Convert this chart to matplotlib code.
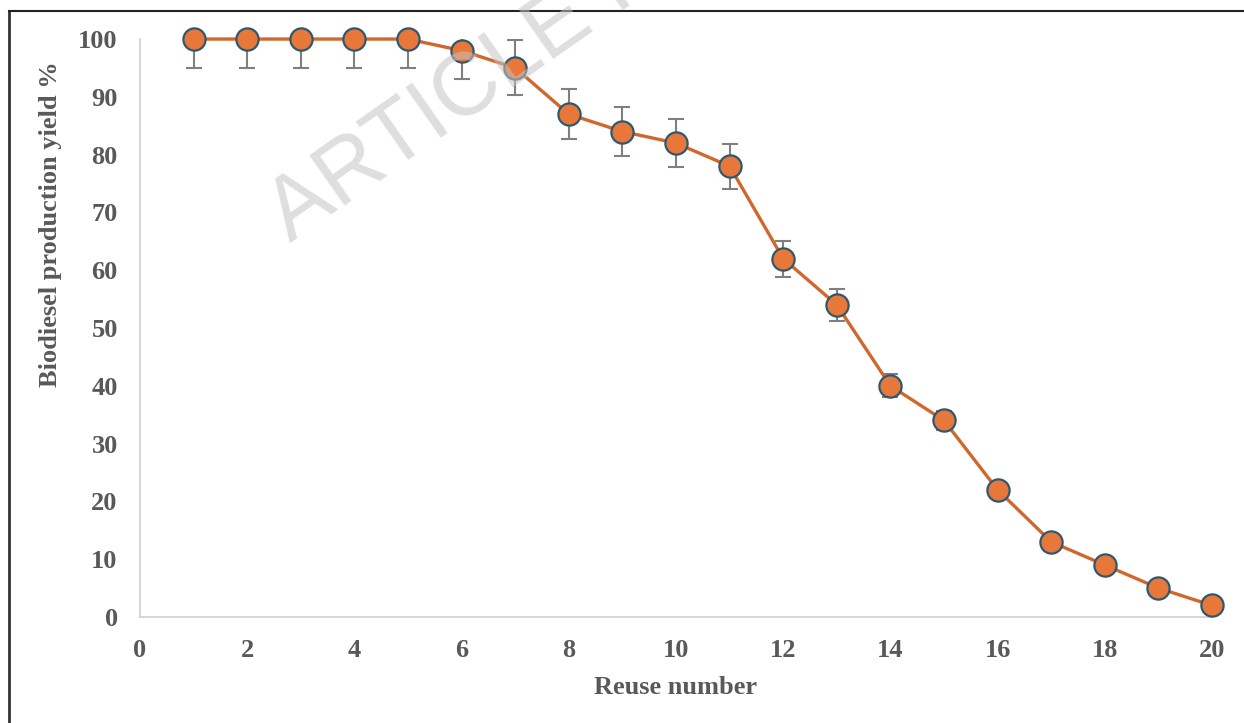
import matplotlib
matplotlib.use("Agg")
import matplotlib.pyplot as plt
from matplotlib.lines import Line2D

# Data
reuse = [1, 2, 3, 4, 5, 6, 7, 8, 9, 10, 11, 12, 13, 14, 15, 16, 17, 18, 19, 20]
yield_pct = [100, 100, 100, 100, 100, 98, 95, 87, 84, 82, 78, 62, 54, 40, 34, 22, 13, 9, 5, 2]
err = [5, 5, 5, 5, 5, 4.9, 4.75, 4.35, 4.2, 4.1, 3.9, 3.1, 2.7, 2.0, 1.7, 1.1, 0.65, 0.45, 0.25, 0.1]
xticks = [0, 2, 4, 6, 8, 10, 12, 14, 16, 18, 20]
yticks = [0, 10, 20, 30, 40, 50, 60, 70, 80, 90, 100]

plt.rcParams['font.family'] = ['Liberation Serif', 'DejaVu Serif']

fig = plt.figure(figsize=(12.44, 7.23), dpi=100)
ax = fig.add_axes([0.1125, 0.1466, 0.8618, 0.7994])

# error bars (clipped at the top of the axis, like the original)
ax.errorbar(reuse, yield_pct, yerr=err, fmt='none', ecolor='#7f7f7f',
            elinewidth=1.5, capsize=6, capthick=1.5, zorder=2)
ax.plot(reuse, yield_pct, color='#d0682e', lw=2.4, marker='o', ms=16,
        mfc='#e8783a', mec='#2f5870', mew=1.6, clip_on=False, zorder=3)

ax.set_xlim(0, 20)
ax.set_ylim(0, 100)
ax.set_xticks(xticks)
ax.set_yticks(yticks)
for s in ['top', 'right']:
    ax.spines[s].set_visible(False)
for s in ['left', 'bottom']:
    ax.spines[s].set_color('#cfcfcf')
    ax.spines[s].set_linewidth(1.2)
ax.tick_params(length=0, pad=16, labelsize=19, labelcolor='#595959')
for lab in ax.get_xticklabels() + ax.get_yticklabels():
    lab.set_fontweight('bold')

ax.set_xlabel('Reuse number', fontsize=19, fontweight='bold', color='#595959', labelpad=10)
ax.set_ylabel('Biodiesel production yield %', fontsize=19, fontweight='bold', color='#595959')
ax.yaxis.set_label_coords(-0.073, 0.68)

# page frame
fig.add_artist(Line2D([9 / 1244, 9 / 1244], [0, 1 - 11 / 723], color='#333333', lw=2))
fig.add_artist(Line2D([9 / 1244, 1], [1 - 11 / 723, 1 - 11 / 723], color='#222222', lw=1.5))

# watermark
fig.text(290 / 1244, 1 - 243 / 723, 'ARTICLE IN PRESS', fontsize=64,
         family='Liberation Sans', color='#c4c4c4', alpha=0.55, rotation=35,
         rotation_mode='anchor', ha='left', va='baseline', zorder=10)

fig.savefig('out.png', dpi=100)
